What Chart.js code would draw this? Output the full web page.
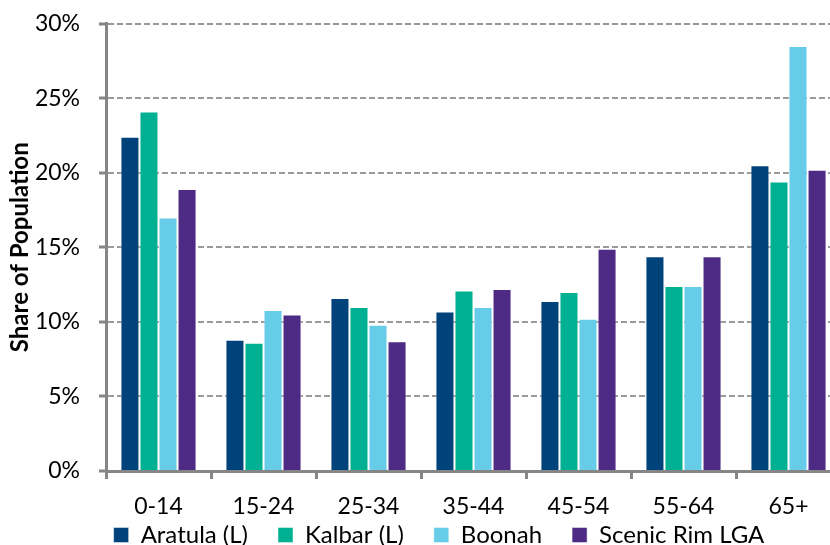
<!DOCTYPE html>
<html>
<head>
<meta charset="utf-8">
<script src="https://cdn.jsdelivr.net/npm/chart.js@4/dist/chart.umd.min.js"></script>
<style>
  html, body { margin: 0; padding: 0; background: #fff; }
  /* the reference crops the plot at the right and the legend at the bottom */
  #cadre { width: 830px; height: 545px; overflow: hidden; position: relative; }
  #wrap { width: 842px; height: 591px; position: absolute; left: 0; top: 0; }
</style>
</head>
<body>
<div id="cadre"><div id="wrap"><canvas id="graphique"></canvas></div></div>
<script>
// age groups on the x axis
const ageGroups = ["0-14", "15-24", "25-34", "35-44", "45-54", "55-64", "65+"];
// share of population, in %
const aratula = [22.4, 8.8, 11.6, 10.7, 11.4, 14.4, 20.5];
const kalbar = [24.1, 8.6, 11.0, 12.1, 12.0, 12.4, 19.4];
const boonah = [17.0, 10.8, 9.8, 11.0, 10.2, 12.4, 28.5];
const scenicRim = [18.9, 10.5, 8.7, 12.2, 14.9, 14.4, 20.2];
const yTicks = [0, 5, 10, 15, 20, 25, 30];

const police = "Lato, 'Open Sans', sans-serif";
const gris = "#868686";

// put the legend row where the reference has it (centre x 439, pulled up under the labels)
const legendePlacee = {
    id: "legendePlacee",
    afterLayout(chart) {
        const lg = chart.legend;
        const dx = 439 - (lg.left + lg.right) / 2;
        lg.left += dx;
        lg.right += dx;
        lg.top -= 34;
        lg.bottom -= 34;
    }
};

const data = {
    labels: ageGroups,
    datasets: [
        { label: "Aratula (L)", data: aratula, backgroundColor: "#00427A" },
        { label: "Kalbar (L)", data: kalbar, backgroundColor: "#00B092" },
        { label: "Boonah", data: boonah, backgroundColor: "#66CCE8" },
        { label: "Scenic Rim LGA", data: scenicRim, backgroundColor: "#4D2A84" }
    ]
};

const config = {
    type: "bar",
    data: data,
    options: {
        responsive: true,
        maintainAspectRatio: false,
        animation: false,
        datasets: {
            bar: {
                categoryPercentage: 0.725,
                barPercentage: 1.0,
                borderWidth: 1,
                borderColor: "rgba(255,255,255,0.45)"
            }
        },
        layout: { padding: { top: 0, right: 1, left: 0, bottom: 0 } },
        plugins: {
            tooltip: { enabled: false },
            legend: {
                position: "bottom",
                labels: {
                    font: { family: police, size: 24 },
                    color: "#000",
                    boxWidth: 15,
                    boxHeight: 15,
                    padding: 30
                }
            }
        },
        scales: {
            x: {
                afterFit: (axis) => { axis.height = 56; },
                grid: {
                    offset: true,
                    drawOnChartArea: false,
                    color: gris,
                    lineWidth: 3,
                    tickLength: 8
                },
                border: { color: gris, width: 3 },
                ticks: {
                    font: { family: police, size: 23 },
                    color: "#000",
                    padding: 14
                }
            },
            y: {
                min: 0,
                max: 30,
                afterBuildTicks: (axis) => { axis.ticks = yTicks.map(v => ({ value: v })); },
                afterFit: (axis) => {
                    axis.width = 106;
                    axis.paddingTop = 23.5;
                    axis.paddingBottom = 0;
                },
                grid: {
                    color: "#9a9a9a",
                    lineWidth: 2,
                    tickColor: gris,
                    tickBorderDash: [],
                    tickWidth: 3,
                    tickLength: 7
                },
                border: { color: gris, width: 3, dash: [6, 3] },
                ticks: {
                    font: { family: police, size: 23 },
                    color: "#000",
                    padding: 19,
                    callback: (v) => v + "%"
                },
                title: {
                    display: true,
                    text: "Share of Population",
                    font: { family: police, size: 24, weight: "bold" },
                    color: "#000",
                    padding: { top: 5.5, bottom: 0 }
                }
            }
        }
    },
    plugins: [legendePlacee]
};

new Chart(document.querySelector("#graphique"), config);
</script>
</body>
</html>
